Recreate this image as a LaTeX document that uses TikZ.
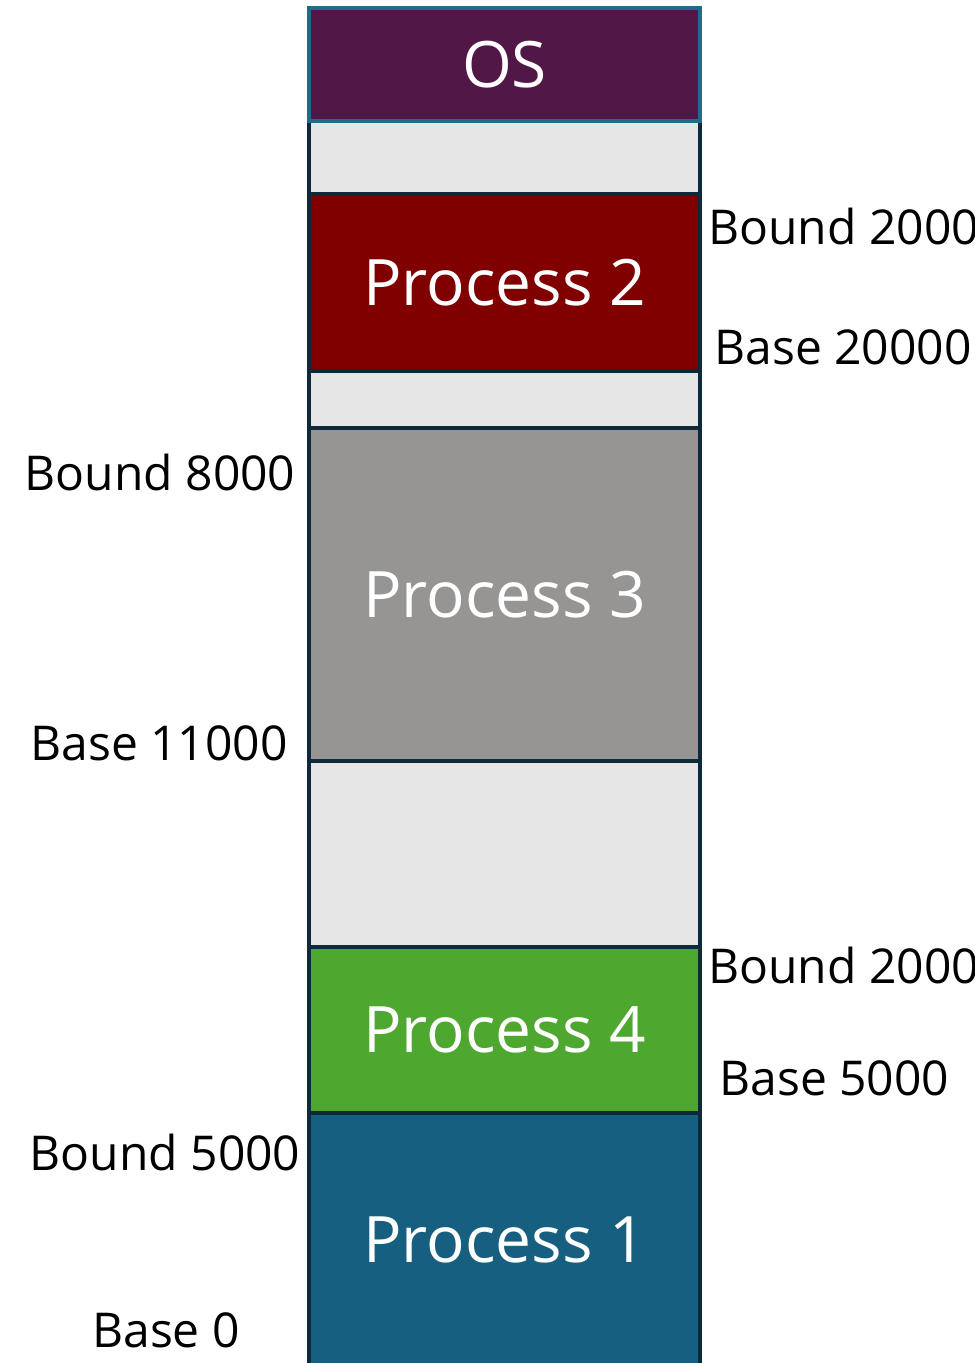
\documentclass[tikz,border=0pt]{standalone}
\usepackage{fontspec}
\setmainfont{Open Sans}
\definecolor{borderdark}{HTML}{0E2A3A}
\definecolor{borderos}{HTML}{1F6B8C}
\definecolor{osfill}{HTML}{511847}
\definecolor{freefill}{HTML}{E7E6E6}
\definecolor{ptwo}{HTML}{800000}
\definecolor{pthree}{HTML}{979593}
\definecolor{pfour}{HTML}{4EA72E}
\definecolor{pone}{HTML}{175F81}
\tikzset{
  block/.style={draw=borderdark, line width=1.75pt, inner sep=0pt,
    minimum width=195.5pt, text=white, font=\fontsize{32}{36}\selectfont},
  freeblock/.style={block, fill=freefill},
  regval/.style={inner sep=0pt, text=black, font=\fontsize{24}{28}\selectfont}
}
\begin{document}
\begin{tikzpicture}[x=0.5pt, y=-0.5pt]
  \useasboundingbox (0,0) rectangle (974,1363);
  % free space between the regions
  \node[freeblock, minimum height=36.5pt] (free1) at (504.5,157.5) {};
  \node[freeblock, minimum height=28.5pt] (free2) at (504.5,399.5) {};
  \node[freeblock, minimum height=93pt]   (free3) at (504.5,854) {};
  % memory regions
  \node[block, fill=ptwo,   minimum height=88.5pt]  (p2) at (504.5,282.5) {Process 2};
  \node[block, fill=pthree, minimum height=166.5pt] (p3) at (504.5,594.5) {Process 3};
  \node[block, fill=pfour,  minimum height=83pt]    (p4) at (504.5,1030) {Process 4};
  \node[block, fill=pone,   minimum height=127pt]   (p1) at (504.5,1240) {Process 1};
  \node[block, fill=osfill, draw=borderos, minimum height=56.5pt] (os) at (504.5,64.5) {OS};
  % base and bound registers
  \node[regval, anchor=base west] (bnd2) at (708,245)  {Bound 2000};
  \node[regval, anchor=base west] (bas2) at (714,365)  {Base 20000};
  \node[regval, anchor=base]      (bnd3) at (160,490)  {Bound 8000};
  \node[regval, anchor=base]      (bas3) at (159,760)  {Base 11000};
  \node[regval, anchor=base west] (bnd4) at (708,983)  {Bound 2000};
  \node[regval, anchor=base west] (bas4) at (719,1095) {Base 5000};
  \node[regval, anchor=base]      (bnd1) at (165,1170) {Bound 5000};
  \node[regval, anchor=base]      (bas1) at (166,1347) {Base 0};
\end{tikzpicture}
\end{document}
